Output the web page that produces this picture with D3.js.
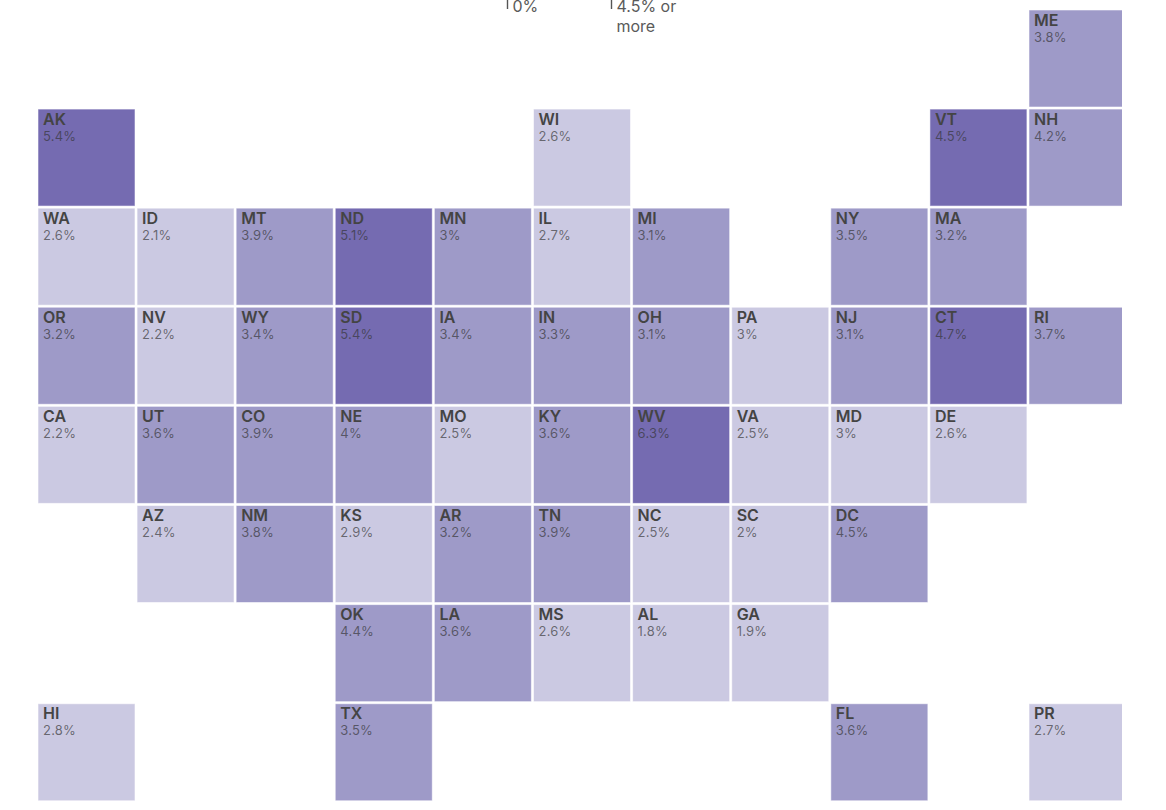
<!DOCTYPE html>
<html>
<head>
<meta charset="utf-8">
<script src="https://cdn.jsdelivr.net/npm/d3@7"></script>
<style>
    html, body { margin: 0; padding: 0; background: #fff; overflow: hidden; }
    svg { display: block; font-family: Inter, "Open Sans", sans-serif; }
    .abbr { font-size: 16px; font-weight: 600; fill: #444; }
    .rate { font-size: 13px; fill: #333; fill-opacity: 0.66; letter-spacing: 0.2px; }
    .legend-label { font-size: 16px; fill: #5a5a5a; }
</style>
</head>
<body>
<svg id="chart"></svg>
<script>
// State tiles, row by row
const states = ["ME",
    "AK", "WI", "VT", "NH",
    "WA", "ID", "MT", "ND", "MN", "IL", "MI", "NY", "MA",
    "OR", "NV", "WY", "SD", "IA", "IN", "OH", "PA", "NJ", "CT", "RI",
    "CA", "UT", "CO", "NE", "MO", "KY", "WV", "VA", "MD", "DE",
    "AZ", "NM", "KS", "AR", "TN", "NC", "SC", "DC",
    "OK", "LA", "MS", "AL", "GA",
    "HI", "TX", "FL", "PR"];
const columns = [10,
    0, 5, 9, 10,
    0, 1, 2, 3, 4, 5, 6, 8, 9,
    0, 1, 2, 3, 4, 5, 6, 7, 8, 9, 10,
    0, 1, 2, 3, 4, 5, 6, 7, 8, 9,
    1, 2, 3, 4, 5, 6, 7, 8,
    3, 4, 5, 6, 7,
    0, 3, 8, 10];
const rows = [0,
    1, 1, 1, 1,
    2, 2, 2, 2, 2, 2, 2, 2, 2,
    3, 3, 3, 3, 3, 3, 3, 3, 3, 3, 3,
    4, 4, 4, 4, 4, 4, 4, 4, 4, 4,
    5, 5, 5, 5, 5, 5, 5, 5,
    6, 6, 6, 6, 6,
    7, 7, 7, 7];
const rates = [3.8,
    5.4, 2.6, 4.5, 4.2,
    2.6, 2.1, 3.9, 5.1, 3, 2.7, 3.1, 3.5, 3.2,
    3.2, 2.2, 3.4, 5.4, 3.4, 3.3, 3.1, 3, 3.1, 4.7, 3.7,
    2.2, 3.6, 3.9, 4, 2.5, 3.6, 6.3, 2.5, 3, 2.6,
    2.4, 3.8, 2.9, 3.2, 3.9, 2.5, 2, 4.5,
    4.4, 3.6, 2.6, 1.8, 1.9,
    2.8, 3.5, 3.6, 2.7];
// Shade class as drawn in the picture (0 light, 1 middle, 2 dark)
const shades = [1,
    2, 0, 2, 1,
    0, 0, 1, 2, 1, 0, 1, 1, 1,
    1, 0, 1, 2, 1, 1, 1, 0, 1, 2, 1,
    0, 1, 1, 1, 0, 1, 2, 0, 0, 0,
    0, 1, 0, 1, 1, 0, 0, 1,
    1, 1, 0, 0, 0,
    0, 1, 1, 0];
const shadeColors = ["#cbc9e2", "#9e9ac8", "#756bb1"];
const legendTicks = [0, 4.5];
const legendLabels = [["0%"], ["4.5% or", "more"]];

const width = 1122, height = 810;
const svg = d3.select("#chart").attr("width", width).attr("height", height);

const x = d3.scaleLinear().domain([0, 11]).range([38.5, 1128.6]);
const y = d3.scaleLinear().domain([0, 8]).range([10.5, 803.3]);
const color = d3.scaleOrdinal().domain([0, 1, 2]).range(shadeColors);
const legendX = d3.scaleLinear().domain([0, 4.5]).range([507.5, 611.5]);
const tile = 96;

// Legend, cut off at the top of the frame
const legend = svg.append("g");
legend.selectAll("line")
    .data(legendTicks)
    .enter()
    .append("line")
    .attr("x1", d => legendX(d))
    .attr("x2", d => legendX(d))
    .attr("y1", 0)
    .attr("y2", 9)
    .attr("stroke", "#555")
    .attr("stroke-width", 1.4);
legend.selectAll("text")
    .data(legendTicks)
    .enter()
    .append("text")
    .attr("class", "legend-label")
    .attr("y", 12)
    .each(function(d, i) {
        d3.select(this).selectAll("tspan")
            .data(legendLabels[i])
            .enter()
            .append("tspan")
            .attr("x", legendX(d) + 5)
            .attr("dy", (t, j) => j ? 20 : 0)
            .text(t => t);
    });

// Tiles
const cells = svg.append("g")
    .selectAll("g")
    .data(states)
    .enter()
    .append("g")
    .attr("transform", (d, i) => `translate(${x(columns[i])},${y(rows[i])})`);

cells.append("rect")
    .attr("width", tile)
    .attr("height", tile)
    .attr("fill", (d, i) => color(shades[i]))
    .attr("stroke", (d, i) => color(shades[i]))
    .attr("stroke-opacity", 0.45)
    .attr("stroke-width", 1);

cells.append("text")
    .attr("class", "abbr")
    .attr("x", 4.5)
    .attr("y", 15)
    .text(d => d);

cells.append("text")
    .attr("class", "rate")
    .attr("x", 4.5)
    .attr("y", 31)
    .text((d, i) => rates[i] + "%");
</script>
</body>
</html>
